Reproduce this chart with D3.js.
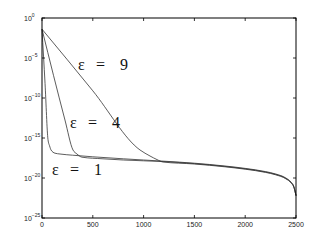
<!DOCTYPE html>
<html>
<head>
<meta charset="utf-8">
<script src="https://cdn.jsdelivr.net/npm/d3@7"></script>
<style>
  body { margin: 0; background: #fff; }
  .tick-label { font-family: "Liberation Sans", Arial, sans-serif; font-size: 7px; fill: #222; }
  .eps { font-family: "Liberation Serif", "Times New Roman", serif; font-size: 16px; fill: #111; }
  .line { fill: none; stroke: #333; stroke-width: 0.8; }
</style>
</head>
<body>
<div id="chart"></div>
<script>
// iteration number n and log10 of the residual for each epsilon
var n1   = [0, 30, 59, 75, 89, 128, 177, 300, 500, 800, 1000, 1200, 1500, 1800, 2000, 2200, 2300, 2400, 2450, 2480, 2500];
var e1   = [-1.4, -8.2, -15.2, -16.0, -16.5, -16.9, -17.0, -17.15, -17.35, -17.6, -17.75, -17.9, -18.15, -18.5, -18.8, -19.2, -19.5, -20.0, -20.5, -21.1, -22.2];

var n4   = [0, 226, 305, 344, 394, 600, 800, 1000, 1200, 1500, 1800, 2000, 2200, 2300, 2400, 2450, 2480, 2500];
var e4   = [-1.4, -12.75, -16.5, -17.0, -17.4, -17.6, -17.75, -17.85, -17.95, -18.2, -18.55, -18.85, -19.25, -19.55, -20.05, -20.55, -21.15, -22.2];

var n9   = [0, 500, 965, 1063, 1132, 1191, 1500, 1800, 2000, 2200, 2300, 2400, 2450, 2480, 2500];
var e9   = [-1.4, -9.1, -16.5, -17.25, -17.7, -18.0, -18.25, -18.6, -18.9, -19.3, -19.6, -20.1, -20.6, -21.2, -22.2];

var xTicks = [0, 500, 1000, 1500, 2000, 2500];
var yTickExp = [0, -5, -10, -15, -20, -25];

var labelDigits = ["9", "4", "1"];
var labelN = [354, 276, 98];
var labelE = [-6.5, -13.75, -19.6];

var margin = {top: 18, right: 31, bottom: 28, left: 42},
    width = 327 - margin.left - margin.right,
    height = 246 - margin.top - margin.bottom;

var x = d3.scaleLinear().domain([0, 2500]).range([0, width]);
var y = d3.scaleLog().domain([1e-25, 1]).range([height, 0]);

function series(ns, es) {
  return ns.map(function(d, i) { return {n: d, v: Math.pow(10, es[i])}; });
}

var line = d3.line()
    .x(function(d) { return x(d.n); })
    .y(function(d) { return y(d.v); })
    .curve(d3.curveMonotoneX);

var svg = d3.select("#chart").append("svg")
    .attr("width", 327)
    .attr("height", 246)
  .append("g")
    .attr("transform", "translate(" + margin.left + "," + margin.top + ")");

// plot lines
[series(n1, e1), series(n4, e4), series(n9, e9)].forEach(function(s) {
  svg.append("path").datum(s).attr("class", "line").attr("d", line);
});

// box
svg.append("rect")
    .attr("x", 0).attr("y", 0)
    .attr("width", width).attr("height", height)
    .attr("fill", "none").attr("stroke", "#000").attr("stroke-width", 1);

// inward ticks, all four sides
var tk = 3;
xTicks.forEach(function(t) {
  svg.append("line").attr("x1", x(t)).attr("x2", x(t)).attr("y1", height).attr("y2", height - tk).attr("stroke", "#000").attr("stroke-width", 0.8);
  svg.append("line").attr("x1", x(t)).attr("x2", x(t)).attr("y1", 0).attr("y2", tk).attr("stroke", "#000").attr("stroke-width", 0.8);
  svg.append("text").attr("class", "tick-label")
      .attr("x", x(t)).attr("y", height + 8.5)
      .attr("text-anchor", "middle")
      .text(t);
});

yTickExp.forEach(function(e) {
  var yy = y(Math.pow(10, e));
  svg.append("line").attr("x1", 0).attr("x2", tk).attr("y1", yy).attr("y2", yy).attr("stroke", "#000").attr("stroke-width", 0.8);
  svg.append("line").attr("x1", width).attr("x2", width - tk).attr("y1", yy).attr("y2", yy).attr("stroke", "#000").attr("stroke-width", 0.8);
  var t = svg.append("text").attr("class", "tick-label")
      .attr("x", -18).attr("y", yy + 2.5);
  t.append("tspan").text("10");
  t.append("tspan").attr("dy", -3.5).style("font-size", "5px").text(e === 0 ? "0" : "\u2212" + (-e));
});

// epsilon labels: symbol, equals sign and digit spaced out like the original
labelDigits.forEach(function(dg, i) {
  var lx = x(labelN[i]), ly = y(Math.pow(10, labelE[i]));
  var t = svg.append("text").attr("class", "eps").attr("y", ly);
  t.append("tspan").attr("x", lx).text("\u03b5");
  t.append("tspan").attr("x", lx + 18).text("=");
  t.append("tspan").attr("x", lx + 42).text(dg);
});
</script>
</body>
</html>
